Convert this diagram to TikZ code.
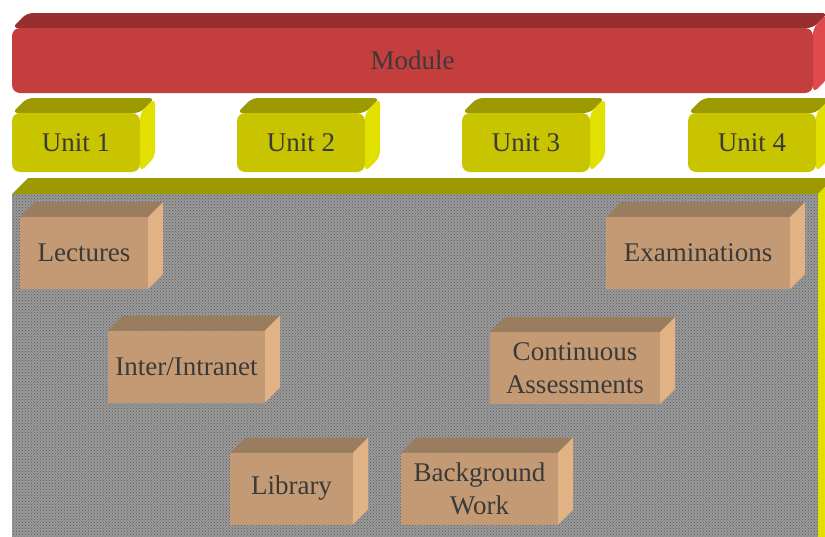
\documentclass[tikz,border=0pt]{standalone}
\usepackage{fontspec}
\setmainfont{Liberation Serif}
\usepackage{xcolor}
\usepackage{tikz}
\usetikzlibrary{patterns}

\definecolor{modfront}{HTML}{C43E3E}
\definecolor{modtop}{HTML}{982E2E}
\definecolor{modside}{HTML}{E04A4A}
\definecolor{unitfront}{HTML}{C8C400}
\definecolor{unittop}{HTML}{9C9A00}
\definecolor{unitside}{HTML}{E2E000}
\definecolor{actfront}{HTML}{C49A74}
\definecolor{acttop}{HTML}{9A7C5E}
\definecolor{actside}{HTML}{E0B284}
\definecolor{basegray}{HTML}{9A9A9A}
\definecolor{txtgray}{HTML}{3A3A3A}

\pgfdeclarelayer{bg}
\pgfdeclarelayer{faces}
\pgfsetlayers{bg,faces,main}

\begin{document}
\begin{tikzpicture}[x=1pt, y=-1pt, font=\fontsize{27}{33}\selectfont]
\tikzstyle{slab}=[
    inner sep=0pt, outer sep=0pt,
    text=txtgray, align=center
]
\tikzstyle{modbox}=[slab, fill=modfront, rounded corners=8pt]
\tikzstyle{unitbox}=[slab, fill=unitfront, rounded corners=8pt,
    minimum width=128pt, minimum height=59pt]
\tikzstyle{actbox}=[slab, fill=actfront, minimum height=72pt]

\useasboundingbox (0,0) rectangle (825,536);
\clip (0,0) rectangle (825,536);

% base platform
\begin{pgfonlayer}{bg}
\node[slab, fill=basegray, minimum width=806pt, minimum height=366pt] (base) at (415,377) {};
\fill[pattern=crosshatch dots, pattern color=black!65] (base.north west) rectangle (base.south east);
\fill[unittop] (base.north west) -- ++(16,-16) -- ([shift={(16,-16)}]base.north east) -- (base.north east) -- cycle;
\fill[unitside] (base.north east) -- ++(16,-16) -- ([shift={(16,-16)}]base.south east) -- (base.south east) -- cycle;
\end{pgfonlayer}

% module and units
\node[modbox, minimum width=801pt, minimum height=65pt] (module) at (412.5,60.5) {\raisebox{-2pt}{Module}};
\node[unitbox] (unit1) at (76,142.5) {\raisebox{-2pt}{Unit 1}};
\node[unitbox] (unit2) at (301,142.5) {\raisebox{-2pt}{Unit 2}};
\node[unitbox] (unit3) at (526,142.5) {\raisebox{-2pt}{Unit 3}};
\node[unitbox] (unit4) at (752,142.5) {\raisebox{-2pt}{Unit 4}};

% learning activities
\node[actbox, minimum width=128pt] (lectures) at (84,253) {\raisebox{-2pt}{Lectures}};
\node[actbox, minimum width=184pt] (exams) at (698,253) {\raisebox{-2pt}{Examinations}};
\node[actbox, minimum width=157pt] (intranet) at (186.5,366.5) {\raisebox{-2pt}{Inter/Intranet}};
\node[actbox, minimum width=170pt] (assess) at (575,368) {Continuous\\Assessments};
\node[actbox, minimum width=123pt] (library) at (291.5,488.5) {\raisebox{-2pt}{Library}};
\node[actbox, minimum width=157pt] (background) at (479.5,488.5) {Background\\Work};

\begin{pgfonlayer}{faces}
\fill[modtop, rounded corners=6pt] (module.north west) -- ++(15,-15) -- ([shift={(15,-15)}]module.north east) -- (module.north east) -- cycle;
\fill[modside, rounded corners=6pt] (module.north east) -- ++(15,-15) -- ([shift={(15,-15)}]module.south east) -- (module.south east) -- cycle;
\foreach \n in {unit1,unit2,unit3,unit4} {
  \fill[unittop, rounded corners=6pt] (\n.north west) -- ++(15,-15) -- ([shift={(15,-15)}]\n.north east) -- (\n.north east) -- cycle;
  \fill[unitside, rounded corners=6pt] (\n.north east) -- ++(15,-15) -- ([shift={(15,-15)}]\n.south east) -- (\n.south east) -- cycle;
}
\foreach \n in {lectures,exams,intranet,assess,library,background} {
  \fill[acttop] (\n.north west) -- ++(15,-15) -- ([shift={(15,-15)}]\n.north east) -- (\n.north east) -- cycle;
  \fill[actside] (\n.north east) -- ++(15,-15) -- ([shift={(15,-15)}]\n.south east) -- (\n.south east) -- cycle;
}
\end{pgfonlayer}
\end{tikzpicture}
\end{document}
